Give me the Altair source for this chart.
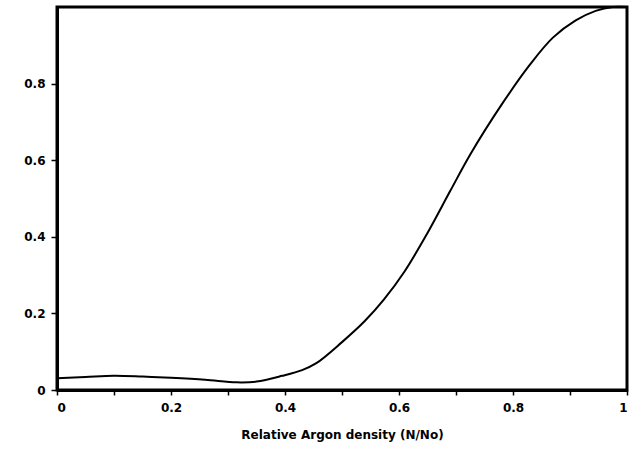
import altair as alt
import pandas as pd

x_vals = [0.0, 0.05, 0.1, 0.15, 0.2, 0.26, 0.315, 0.35, 0.395, 0.43, 0.455, 0.5, 0.54, 0.573, 0.61, 0.65, 0.69, 0.725, 0.78, 0.83, 0.87, 0.91, 0.945, 0.975, 1.0]
y_vals = [0.031, 0.034, 0.037, 0.035, 0.032, 0.027, 0.020, 0.022, 0.037, 0.052, 0.070, 0.125, 0.18, 0.235, 0.31, 0.41, 0.52, 0.615, 0.745, 0.85, 0.92, 0.965, 0.99, 1.0, 1.0]

df = pd.DataFrame({"x": x_vals, "y": y_vals})

font = "DejaVu Sans"

chart = alt.Chart(df).mark_line(color="black", strokeWidth=2, interpolate="catmull-rom").encode(
    x=alt.X("x:Q", scale=alt.Scale(domain=[0, 1], nice=False),
            axis=alt.Axis(title="Relative Argon density (N/No)",
                          values=[0, 0.1, 0.2, 0.3, 0.4, 0.5, 0.6, 0.7, 0.8, 0.9, 1.0],
                          labelExpr="(round(datum.value*10) % 2 == 0) ? (datum.value == 0 ? '0' : (datum.value == 1 ? '1' : format(datum.value, '.1f'))) : ''",
                          grid=False, tickSize=5, tickColor="black", tickWidth=1.5,
                          domainColor="black", domainWidth=3,
                          labelFont=font, labelFontWeight="bold", labelFontSize=12, labelColor="black",
                          labelPadding=7,
                          titleFont=font, titleFontWeight="bold", titleFontSize=12, titleColor="black",
                          titlePadding=16)),
    y=alt.Y("y:Q", scale=alt.Scale(domain=[0, 1], nice=False),
            axis=alt.Axis(title=None,
                          values=[0, 0.2, 0.4, 0.6, 0.8],
                          labelExpr="datum.value == 0 ? '0' : format(datum.value, '.1f')",
                          grid=False, tickSize=6, tickColor="black", tickWidth=1.5,
                          domainColor="black", domainWidth=3,
                          labelFont=font, labelFontWeight="bold", labelFontSize=12, labelColor="black",
                          labelPadding=6)),
).properties(
    width=570, height=383,
    background="white",
    autosize=alt.AutoSizeParams(type="none"),
    padding={"left": 57, "top": 7, "right": 12, "bottom": 64},
).configure_view(
    stroke="black", strokeWidth=3
)

chart.save("out.html", embed_options={"renderer": "svg", "actions": False})
